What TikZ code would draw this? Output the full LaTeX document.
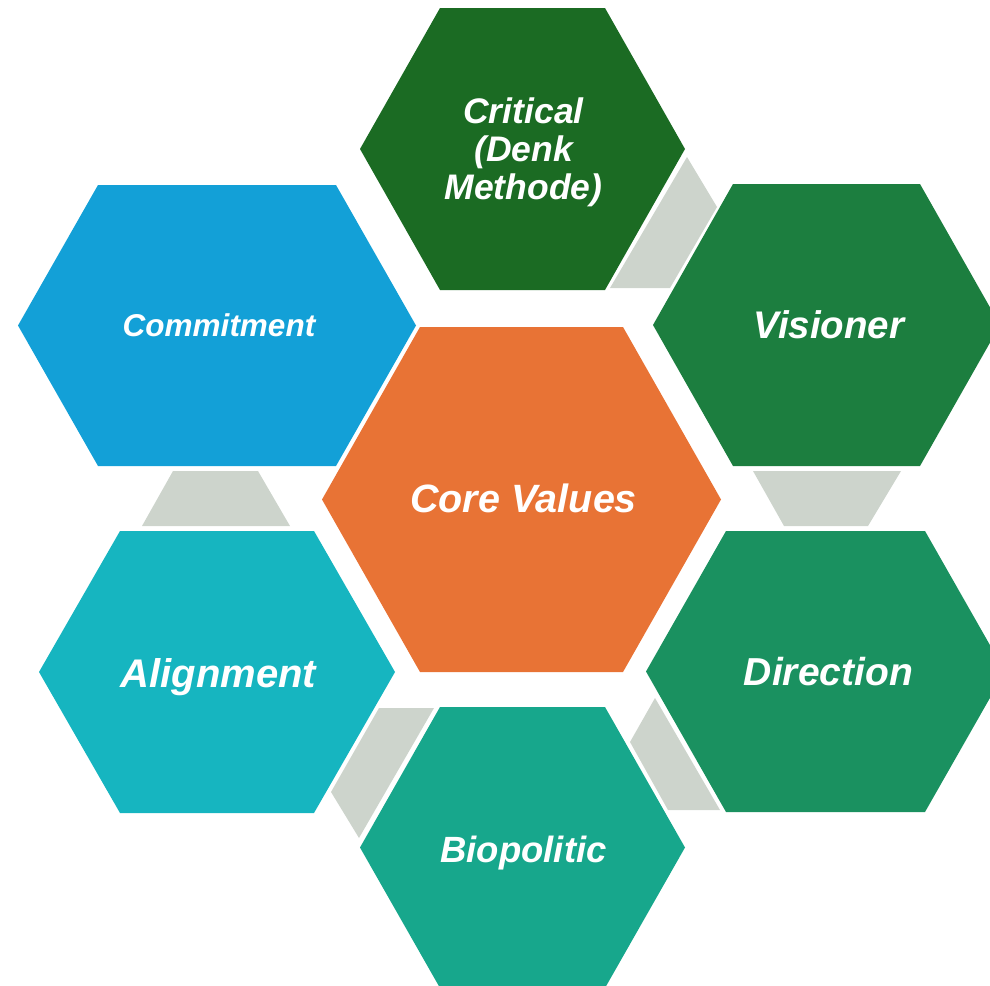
\documentclass[tikz,border=0pt]{standalone}
\usepackage{fontspec}
\setmainfont{Liberation Sans}
\usepackage{tikz}
\usetikzlibrary{calc}
\definecolor{colorCore}{HTML}{E87335}
\definecolor{colorCritical}{HTML}{1B6B23}
\definecolor{colorVisioner}{HTML}{1C7E3F}
\definecolor{colorDirection}{HTML}{1A9160}
\definecolor{colorBiopolitic}{HTML}{17A78C}
\definecolor{colorAlignment}{HTML}{16B5C0}
\definecolor{colorCommitment}{HTML}{13A0D7}
\definecolor{colorLink}{HTML}{CDD4CC}
\tikzset{
  hexlabel/.style={text=white, inner sep=0pt, anchor=base, align=center,
    font=\fontsize{#1}{38}\selectfont\bfseries\itshape},
  linkpiece/.style={fill=colorLink},
}
\newcommand{\hexcell}[5]{\fill[#5] ($(#1)+(-#2,0)$) -- ($(#1)+(-#2+#4,-#3)$) -- ($(#1)+(#2-#4,-#3)$) -- ($(#1)+(#2,0)$) -- ($(#1)+(#2-#4,#3)$) -- ($(#1)+(-#2+#4,#3)$) -- cycle;}

\begin{document}
\begin{tikzpicture}[x=1pt,y=-1pt]
    \useasboundingbox (0,0) rectangle (990,985);
    \clip (0,0) rectangle (990,985);
    \coordinate (core) at (521.5,499.5);
    \coordinate (critical) at (522.5,149);
    \coordinate (visioner) at (826.5,325);
    \coordinate (direction) at (825.5,671.5);
    \coordinate (biopolitic) at (522.5,847.5);
    \coordinate (alignment) at (217,672);
    \coordinate (commitment) at (217,325.5);
    \fill[linkpiece] (610,288) -- (687,157) -- (717,207) -- (670,288) -- cycle;
    \fill[linkpiece] (753,471) -- (901,471) -- (868,526) -- (784,526) -- cycle;
    \fill[linkpiece] (655,698) -- (630,742) -- (668,810) -- (720,810) -- cycle;
    \fill[linkpiece] (379,708) -- (434,708) -- (359,838) -- (331,792) -- cycle;
    \fill[linkpiece] (173,471) -- (258,471) -- (290,526) -- (142,526) -- cycle;
    \hexcell{core}{199.5}{172.5}{98}{colorCore}
    \hexcell{critical}{162.5}{141}{80}{colorCritical}
    \hexcell{visioner}{173.5}{141}{80}{colorVisioner}
    \hexcell{direction}{179.5}{140.5}{80}{colorDirection}
    \hexcell{biopolitic}{162.5}{140.5}{80}{colorBiopolitic}
    \hexcell{alignment}{178}{141}{81}{colorAlignment}
    \hexcell{commitment}{199}{140.5}{80}{colorCommitment}
    \node[hexlabel=39.5] (coreText) at (523.5,512) {Core Values};
    \node[hexlabel=35.5, anchor=center] (criticalText) at (523.5,152) {Critical\\(Denk\\Methode)};
    \node[hexlabel=38.5] (visionerText) at (829,338) {Visioner};
    \node[hexlabel=39] (directionText) at (828.5,685) {Direction};
    \node[hexlabel=36.5] (biopoliticText) at (523.5,862) {Biopolitic};
    \node[hexlabel=40] (alignmentText) at (218.5,687) {Alignment};
    \node[hexlabel=31.5] (commitmentText) at (219,336) {Commitment};
\end{tikzpicture}
\end{document}
